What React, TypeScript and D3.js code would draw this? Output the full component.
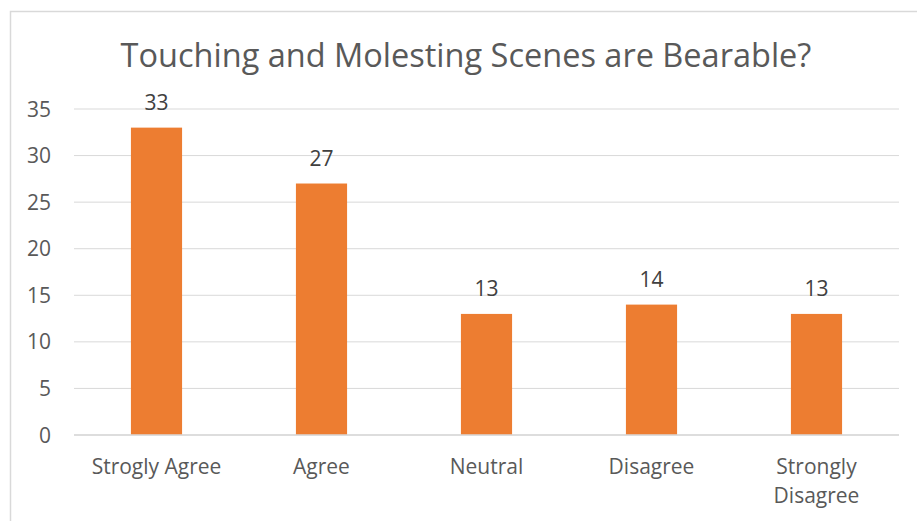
import { useEffect, useRef } from 'react';
import * as d3 from 'd3';

const categories = ['Strogly Agree', 'Agree', 'Neutral', 'Disagree', 'Strongly Disagree'];
const counts = [33, 27, 13, 14, 13];
const yTicks = [0, 5, 10, 15, 20, 25, 30, 35];
const chartTitle = 'Touching and Molesting Scenes are Bearable?';

const App = () => {
  const chartRef = useRef<SVGSVGElement>(null);

  useEffect(() => {
    if (!chartRef.current) return;
    const svg = d3.select(chartRef.current);
    svg.selectAll('*').remove();

    const width = 917;
    const height = 521;
    const font = '"Open Sans", sans-serif';
    const textColor = '#595959';

    // Outer chart border
    svg.append('rect')
      .attr('x', 10.5)
      .attr('y', 11.5)
      .attr('width', width + 20)
      .attr('height', height + 20)
      .attr('fill', 'white')
      .attr('stroke', '#d9d9d9')
      .attr('stroke-width', 1.5);

    const plot = { left: 74, right: 899, top: 109, bottom: 435 };

    const x = d3.scaleBand()
      .domain(categories)
      .range([plot.left, plot.right])
      .paddingInner(0.69)
      .paddingOuter(0.345);

    const y = d3.scaleLinear()
      .domain([0, 35])
      .range([plot.bottom, plot.top]);

    // Gridlines
    svg.append('g')
      .selectAll('line')
      .data(yTicks)
      .join('line')
      .attr('x1', plot.left)
      .attr('x2', plot.right)
      .attr('y1', d => y(d))
      .attr('y2', d => y(d))
      .attr('stroke', '#d9d9d9')
      .attr('stroke-width', 1);

    // Y tick labels
    svg.append('g')
      .selectAll('text')
      .data(yTicks)
      .join('text')
      .attr('x', 51)
      .attr('y', d => y(d) + 7.5)
      .attr('text-anchor', 'end')
      .style('font-family', font)
      .style('font-size', '21px')
      .style('fill', textColor)
      .text(d => d);

    // Bars
    svg.append('g')
      .selectAll('rect')
      .data(counts)
      .join('rect')
      .attr('x', (_, i) => x(categories[i]) as number)
      .attr('y', d => y(d))
      .attr('width', x.bandwidth())
      .attr('height', d => y(0) - y(d))
      .attr('fill', '#ED7D31');

    // Zero line on top of bars
    svg.append('line')
      .attr('x1', plot.left)
      .attr('x2', plot.right)
      .attr('y1', y(0))
      .attr('y2', y(0))
      .attr('stroke', '#d9d9d9')
      .attr('stroke-width', 1.5);

    // Data labels
    svg.append('g')
      .selectAll('text')
      .data(counts)
      .join('text')
      .attr('x', (_, i) => (x(categories[i]) as number) + x.bandwidth() / 2)
      .attr('y', d => y(d) - 17.5)
      .attr('text-anchor', 'middle')
      .style('font-family', font)
      .style('font-size', '21px')
      .style('fill', '#404040')
      .text(d => d);

    // Category labels (wrap two-word "Strongly Disagree")
    const catG = svg.append('g');
    categories.forEach(c => {
      const cx = (x(c) as number) + x.bandwidth() / 2;
      const lines = c === 'Strongly Disagree' ? ['Strongly', 'Disagree'] : [c];
      lines.forEach((l, j) => {
        catG.append('text')
          .attr('x', cx)
          .attr('y', 474 + j * 29)
          .attr('text-anchor', 'middle')
          .style('font-family', font)
          .style('font-size', '21px')
          .style('fill', textColor)
          .text(l);
      });
    });

    // Title
    svg.append('text')
      .attr('x', 466)
      .attr('y', 67)
      .attr('text-anchor', 'middle')
      .style('font-family', font)
      .style('font-size', '32.5px')
      .style('fill', textColor)
      .text(chartTitle);
  }, []);

  return (
    <svg
      ref={chartRef}
      width={917}
      height={521}
      style={{ position: 'absolute', left: 0, top: 0, display: 'block' }}
    />
  );
};

export default App;
